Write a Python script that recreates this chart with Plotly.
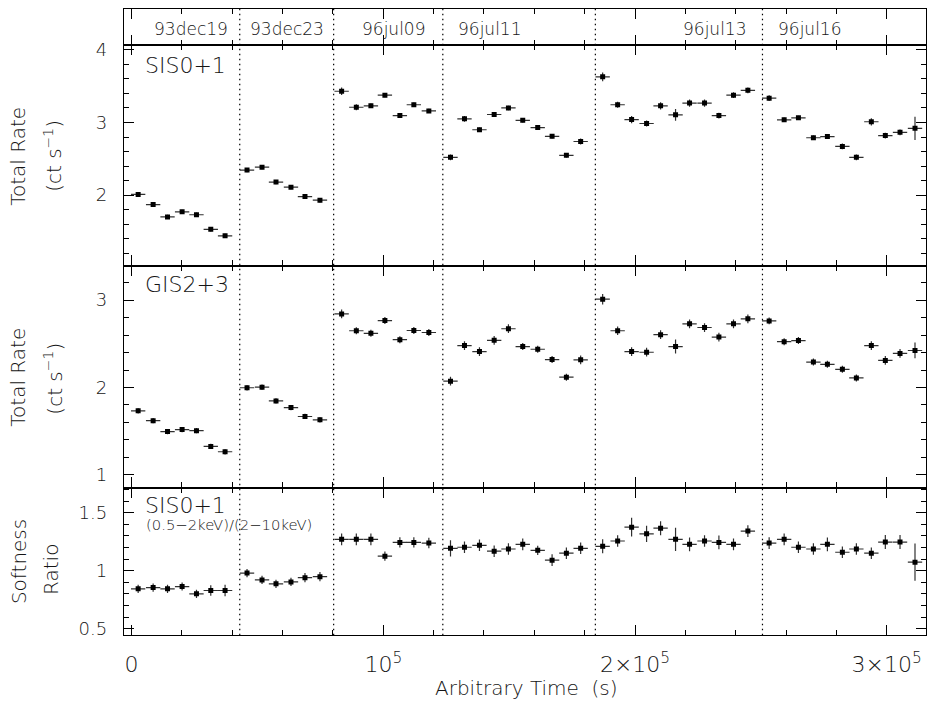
import plotly.graph_objects as go

W, H = 927, 713

# ---------------- data ----------------
time_s = [2620, 8570, 14290, 20080, 25790, 31470, 37150,
          45870, 51830, 57380, 63330, 68890, 74840,
          83450, 89290, 95080, 100640, 106590, 112140, 118100,
          126700, 132260, 138210, 144050, 149720, 155400, 161350, 167060, 172740, 178410,
          187150, 193100, 198650, 204600, 210160, 216110, 221670, 227620, 233330, 239130, 244840,
          253290, 259250, 264920, 270870, 276430, 282380, 287940, 293890, 299440, 305280, 311230]
time_halfwidth = [2850] * len(time_s)

sis_rate = [2.01, 1.87, 1.70, 1.77, 1.73, 1.53, 1.44,
            2.345, 2.385, 2.18, 2.11, 1.98, 1.93,
            3.43, 3.21, 3.23, 3.376, 3.095, 3.244, 3.159,
            2.52, 3.05, 2.90, 3.11, 3.20, 3.03, 2.93, 2.81, 2.548, 2.738,
            3.628, 3.244, 3.04, 2.986, 3.23, 3.105, 3.267, 3.267, 3.095, 3.376, 3.443,
            3.335, 3.037, 3.064, 2.79, 2.806, 2.67, 2.52, 3.01, 2.82, 2.864, 2.919]
sis_err = [0.03, 0.03, 0.03, 0.03, 0.03, 0.03, 0.03,
           0.03, 0.03, 0.03, 0.03, 0.03, 0.03,
           0.05, 0.04, 0.03, 0.03, 0.03, 0.03, 0.03,
           0.04, 0.04, 0.03, 0.03, 0.03, 0.03, 0.03, 0.03, 0.03, 0.04,
           0.06, 0.04, 0.05, 0.04, 0.05, 0.08, 0.05, 0.05, 0.04, 0.04, 0.04,
           0.04, 0.03, 0.03, 0.03, 0.03, 0.04, 0.04, 0.05, 0.04, 0.04, 0.16]

gis_rate = [1.733, 1.62, 1.495, 1.518, 1.506, 1.325, 1.264,
            1.997, 2.004, 1.846, 1.77, 1.668, 1.63,
            2.843, 2.65, 2.62, 2.767, 2.548, 2.653, 2.63,
            2.072, 2.48, 2.412, 2.54, 2.673, 2.469, 2.438, 2.32, 2.118, 2.317,
            3.012, 2.65, 2.412, 2.404, 2.605, 2.469, 2.729, 2.687, 2.578, 2.729, 2.786,
            2.763, 2.525, 2.537, 2.291, 2.265, 2.208, 2.11, 2.48, 2.31, 2.39, 2.424]
gis_err = [0.03, 0.03, 0.03, 0.03, 0.03, 0.03, 0.03,
           0.03, 0.03, 0.03, 0.03, 0.03, 0.03,
           0.05, 0.04, 0.04, 0.04, 0.04, 0.04, 0.04,
           0.05, 0.05, 0.05, 0.05, 0.05, 0.04, 0.04, 0.04, 0.04, 0.05,
           0.06, 0.05, 0.05, 0.05, 0.05, 0.08, 0.05, 0.05, 0.05, 0.05, 0.05,
           0.04, 0.04, 0.04, 0.04, 0.04, 0.04, 0.04, 0.05, 0.05, 0.05, 0.09]

soft_ratio = [0.844, 0.855, 0.844, 0.864, 0.801, 0.83, 0.83,
              0.98, 0.921, 0.887, 0.904, 0.94, 0.949,
              1.27, 1.27, 1.27, 1.125, 1.244, 1.244, 1.238,
              1.193, 1.202, 1.219, 1.168, 1.187, 1.227, 1.176, 1.091, 1.151, 1.193,
              1.21, 1.256, 1.375, 1.318, 1.366, 1.27, 1.227, 1.256, 1.244, 1.227, 1.341,
              1.238, 1.27, 1.202, 1.187, 1.227, 1.159, 1.187, 1.151, 1.247, 1.247, 1.074]
soft_err = [0.035, 0.035, 0.035, 0.035, 0.035, 0.045, 0.05,
            0.035, 0.035, 0.035, 0.035, 0.04, 0.04,
            0.05, 0.05, 0.05, 0.04, 0.045, 0.045, 0.045,
            0.07, 0.05, 0.05, 0.05, 0.05, 0.05, 0.04, 0.05, 0.05, 0.05,
            0.06, 0.05, 0.08, 0.07, 0.06, 0.1, 0.06, 0.05, 0.06, 0.05, 0.05,
            0.05, 0.05, 0.05, 0.05, 0.06, 0.05, 0.05, 0.05, 0.06, 0.06, 0.16]

boundaries = [42980, 80280, 123650, 184250, 250640]
obs_labels = ["93dec19", "93dec23", "96jul09", "96jul11", "96jul13", "96jul16"]
obs_label_x = [23810, 61830, 104090, 142180, 231670, 269440]

x_tickvals = [0, 100000, 200000, 300000]
x_ticktext = ["0", "10<sup>5</sup>", "2×10<sup>5</sup>", "3×10<sup>5</sup>"]

# ---------------- layout helpers ----------------
def py(p):  # pixel from top -> paper fraction
    return 1 - p / H

def px(p):
    return p / W

FONT = "DejaVu Sans"
TXT = "#151515"
X_RANGE = [-3056, 315600]
XDOM = [px(124), 1.0]

dom_p3 = [py(638.3), py(488.5)]
dom_p2 = [py(488.5), py(263.3)]
dom_p1 = [py(263.3), py(39.3)]
dom_top = [py(39.3), py(2.7)]

fig = go.Figure()

def add_series(xa, ya, y, err):
    fig.add_trace(go.Scatter(
        x=time_s, y=y, xaxis=xa, yaxis=ya, mode="markers",
        marker=dict(symbol="square", size=5, color="black"),
        error_x=dict(type="data", array=time_halfwidth, width=0, thickness=1.2, color="#303030"),
        error_y=dict(type="data", array=err, width=0, thickness=1.2, color="#303030"),
        showlegend=False, hoverinfo="skip"))

add_series("x3", "y3", sis_rate, sis_err)
add_series("x2", "y2", gis_rate, gis_err)
add_series("x", "y", soft_ratio, soft_err)

xcommon = dict(range=X_RANGE, domain=XDOM, showgrid=False, zeroline=False,
               showline=True, linecolor="black", linewidth=1.3, mirror="ticks",
               ticks="inside", ticklen=10, tickwidth=1, tickcolor="black",
               tickvals=x_tickvals,
               minor=dict(dtick=20000, tick0=0, ticks="inside", ticklen=5,
                          tickcolor="black", tickwidth=1, showgrid=False))

ycommon = dict(showgrid=False, zeroline=False, showline=True, linecolor="black",
               linewidth=1.3, mirror="ticks", ticks="inside", ticklen=10,
               tickwidth=1, tickcolor="black",
               tickfont=dict(family=FONT, size=18, color=TXT, weight=200),
               ticklabelstandoff=12)

fig.update_layout(
    width=W, height=H, margin=dict(l=0, r=0, t=0, b=0),
    paper_bgcolor="white", plot_bgcolor="white",
    font=dict(family=FONT, color=TXT, weight=200),
    xaxis=dict(**xcommon, anchor="y", ticktext=x_ticktext, showticklabels=True,
               tickfont=dict(family=FONT, size=22, color=TXT, weight=200),
               ticklabelstandoff=9),
    xaxis2=dict(**xcommon, anchor="y2", matches="x", showticklabels=False),
    xaxis3=dict(**xcommon, anchor="y3", matches="x", showticklabels=False),
    xaxis4=dict(**xcommon, anchor="y4", matches="x", showticklabels=False),
    yaxis=dict(**ycommon, domain=dom_p3, range=[0.444, 1.715], anchor="x",
               tick0=0.5, dtick=0.5,
               minor=dict(dtick=0.1, tick0=0, ticks="inside", ticklen=5,
                          tickcolor="black", tickwidth=1, showgrid=False)),
    yaxis2=dict(**ycommon, domain=dom_p2, range=[0.853, 3.396], anchor="x2",
                tick0=0, dtick=1,
                minor=dict(dtick=0.2, tick0=0, ticks="inside", ticklen=5,
                           tickcolor="black", tickwidth=1, showgrid=False)),
    yaxis3=dict(**ycommon, domain=dom_p1, range=[1.03, 4.07], anchor="x3",
                tick0=0, dtick=1,
                minor=dict(dtick=0.2, tick0=0, ticks="inside", ticklen=5,
                           tickcolor="black", tickwidth=1, showgrid=False)),
    yaxis4=dict(domain=dom_top, range=[0, 1], anchor="x4", showgrid=False,
                zeroline=False, showline=True, linecolor="black", linewidth=1.3,
                mirror=True, ticks="", showticklabels=False),
)

# dotted observation boundaries
for b in boundaries:
    fig.add_shape(type="line", xref="x", yref="paper", x0=b, x1=b,
                  y0=dom_p3[0], y1=dom_top[1],
                  line=dict(color="black", width=1.2, dash="1.5px,3.5px"))

# observation labels in top strip
for lab, xl in zip(obs_labels, obs_label_x):
    fig.add_annotation(text=lab, x=xl, xref="x4", y=py(23), yref="paper",
                       showarrow=False, xanchor="center", yanchor="middle",
                       font=dict(family=FONT, size=17, color=TXT, weight=200))

def ann(text, xp, yp, size, angle=0, xanchor="center"):
    fig.add_annotation(text=text, x=px(xp), y=py(yp), xref="paper", yref="paper",
                       showarrow=False, textangle=angle, xanchor=xanchor, yanchor="middle",
                       font=dict(family=FONT, size=size, color=TXT, weight=200))

# panel labels
ann("SIS0+1", 143, 60, 22, xanchor="left")
ann("GIS2+3", 143, 282, 22, xanchor="left")
ann("SIS0+1", 143, 507, 22, xanchor="left")
ann("(0.5−2keV)/(2−10keV)", 144, 526, 14.8, xanchor="left")

# y titles
ann("Total Rate", 18, 152, 20, angle=-90)
ann("(ct s<sup>−1</sup>)", 53, 152, 20, angle=-90)
ann("Total Rate", 18, 376, 20, angle=-90)
ann("(ct s<sup>−1</sup>)", 53, 378, 20, angle=-90)
ann("Softness", 19, 563, 20, angle=-90)
ann("Ratio", 51, 571, 20, angle=-90)

# x title
ann("Arbitrary Time  (s)", 527, 692, 20)

fig.write_html("out.html")
